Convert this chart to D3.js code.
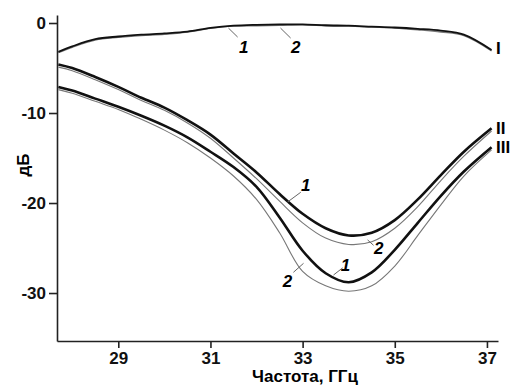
<!DOCTYPE html>
<html lang="ru">
<head>
<meta charset="UTF-8">
<title>дБ от частоты</title>
<style>
    body { margin: 0; background: #fff; }
    svg { font-family: "Liberation Sans", Arial, sans-serif; }
    .axis text { font-size: 17px; font-weight: bold; fill: #111; }
    .axis path, .axis line { stroke: #222; stroke-width: 1.6px; }
</style>
</head>
<body>
<div id="chart"></div>
<script src="https://d3js.org/d3.v7.min.js"></script>
<script>
// частоты, ГГц
var freq = [27.7, 28.0, 28.5, 29, 29.5, 30, 30.5, 31, 31.5, 32, 32.5, 33, 33.5, 34, 34.5, 35, 35.5, 36, 36.5, 37.1];

// кривые (дБ)
var curveI1   = [-3.2, -2.6, -1.8, -1.5, -1.3, -1.15, -0.95, -0.55, -0.3, -0.2, -0.15, -0.15, -0.25, -0.3, -0.4, -0.5, -0.65, -0.85, -1.3, -3.0];
var curveI2   = [-3.3, -2.7, -1.9, -1.6, -1.4, -1.25, -1.0, -0.6, -0.35, -0.3, -0.25, -0.2, -0.3, -0.35, -0.45, -0.55, -0.75, -1.0, -1.4, -3.1];
var curveII1  = [-4.6, -5.0, -6.0, -7.1, -8.3, -9.4, -10.8, -12.4, -14.5, -16.6, -19.0, -21.2, -22.8, -23.6, -23.3, -21.9, -19.6, -16.9, -14.3, -11.7];
var curveII2  = [-4.9, -5.3, -6.3, -7.4, -8.6, -9.7, -11.1, -12.8, -15.0, -17.3, -19.8, -22.2, -23.9, -24.6, -24.3, -22.8, -20.4, -17.5, -14.8, -12.0];
var curveIII1 = [-7.1, -7.5, -8.4, -9.3, -10.3, -11.4, -12.7, -14.3, -16.0, -18.2, -21.6, -25.3, -27.8, -28.8, -27.7, -25.2, -22.2, -19.2, -16.5, -13.8];
var curveIII2 = [-7.4, -7.8, -8.7, -9.6, -10.7, -11.9, -13.3, -15.0, -17.0, -19.6, -23.3, -27.6, -29.2, -29.8, -29.2, -27.0, -23.6, -20.2, -17.0, -14.1];

var xTicks = [29, 31, 33, 35, 37];
var yTicks = [0, -10, -20, -30];

// подписи 1/2: [текст, f, дБ, выноска f1, дБ1, f2, дБ2]
var numLabels = [
    ["1", 31.72, -2.67, 31.39, -0.56, 31.59, -1.56],
    ["2", 32.85, -2.67, 32.52, -0.56, 32.74, -1.67],
    ["1", 33.07, -18.0, 32.67, -19.9, 32.96, -18.8],
    ["2", 34.65, -25.0, 34.41, -24.1, 34.54, -24.7],
    ["1", 33.93, -26.9, 33.67, -28.0, 33.87, -27.2],
    ["2", 32.67, -28.6, 33.02, -26.7, 32.80, -27.7]
];
var romanLabels = [["I", -2.8], ["II", -11.6], ["III", -13.8]];

var width = 513, height = 385;

var svg = d3.select("#chart").append("svg")
    .attr("width", width)
    .attr("height", height);

var x = d3.scaleLinear().domain([27.67, 37.24]).range([57, 498]);
var y = d3.scaleLinear().domain([-35.33, 0.89]).range([341, 15]);

svg.append("g")
    .attr("class", "axis")
    .attr("transform", "translate(0,341)")
    .call(d3.axisBottom(x).tickValues(xTicks).tickSize(7).tickSizeOuter(0).tickPadding(4)
        .tickFormat(function (d) { return String(d); }));

svg.append("g")
    .attr("class", "axis")
    .attr("transform", "translate(57,0)")
    .call(d3.axisLeft(y).tickValues(yTicks).tickSize(8).tickSizeOuter(0).tickPadding(3)
        .tickFormat(function (d) { return String(d); }));

svg.append("text")
    .attr("x", 305).attr("y", 382)
    .attr("text-anchor", "middle")
    .style("font-size", "17px").style("font-weight", "bold")
    .text("Частота, ГГц");

svg.append("text")
    .attr("transform", "translate(29,165) rotate(-90)")
    .attr("text-anchor", "middle")
    .style("font-size", "17px").style("font-weight", "bold")
    .text("дБ");

var line = d3.line()
    .x(function (d) { return x(d[0]); })
    .y(function (d) { return y(d[1]); })
    .curve(d3.curveCatmullRom.alpha(0.5));

function draw(vals, color, w) {
    svg.append("path")
        .datum(freq.map(function (f, i) { return [f, vals[i]]; }))
        .attr("d", line)
        .attr("fill", "none")
        .attr("stroke", color)
        .attr("stroke-width", w);
}

// сначала серые (2), потом чёрные (1)
draw(curveI2, "#777", 1.4);
draw(curveII2, "#777", 1.1);
draw(curveIII2, "#777", 1.1);
draw(curveI1, "#111", 1.8);
draw(curveII1, "#111", 2.6);
draw(curveIII1, "#111", 2.6);

numLabels.forEach(function (d) {
    svg.append("line")
        .attr("x1", x(d[3])).attr("y1", y(d[4]))
        .attr("x2", x(d[5])).attr("y2", y(d[6]))
        .attr("stroke", "#666").attr("stroke-width", 1);
    svg.append("text")
        .attr("x", x(d[1])).attr("y", y(d[2]))
        .attr("text-anchor", "middle")
        .attr("dy", "0.36em")
        .style("font-size", "17px").style("font-weight", "bold").style("font-style", "italic")
        .text(d[0]);
});

romanLabels.forEach(function (d) {
    svg.append("text")
        .attr("x", 496).attr("y", y(d[1]))
        .attr("dy", "0.36em")
        .style("font-size", "17px").style("font-weight", "bold")
        .text(d[0]);
});
</script>
</body>
</html>
